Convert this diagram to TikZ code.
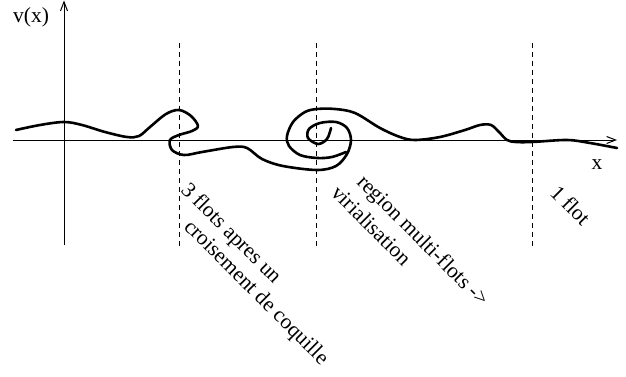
\documentclass[tikz,border=0pt]{standalone}
\usepackage{fontspec}
\setmainfont{Liberation Serif}
\usetikzlibrary{arrows.meta}
\tikzset{
  axisline/.style={line width=1pt, -{Straight Barb[length=9pt,width=7pt,line width=1pt]}},
  guide/.style={line width=0.9pt, dash pattern=on 5pt off 4pt},
  wave/.style={line width=2.6pt, line cap=round, line join=round},
  lbl/.style={font=\fontsize{21.5}{24}\selectfont, inner sep=0pt},
  rlbl/.style={lbl, rotate=-45, anchor=base west}
}
\begin{document}
\begin{tikzpicture}[x=1pt,y=-1pt]
\useasboundingbox (0,0) rectangle (626,377);
% axes
\coordinate (yb) at (64,245);
\coordinate (yt) at (64,0.5);
\coordinate (xl) at (13,140);
\coordinate (xr) at (617,140);
\draw[axisline] (yb) -- (yt);
\draw[axisline] (xl) -- (xr);
% dashed guides
\coordinate (d1t) at (179,43); \coordinate (d1b) at (179,246);
\coordinate (d2t) at (316,43); \coordinate (d2b) at (316,247);
\coordinate (d3t) at (532,43); \coordinate (d3b) at (532,247);
\draw[guide] (d1t) -- (d1b);
\draw[guide] (d2t) -- (d2b);
\draw[guide] (d3t) -- (d3b);
% main curve: left part into spiral center
\draw[wave] plot[smooth, tension=0.55] coordinates {
 (16,130) (40,125) (64,122) (82,125) (105,132) (127,137) (139,136) (150,127)
 (166,114) (179,110) (191,116) (198,126) (192,131) (179,135) (170,140)
 (172,150) (184,155) (202,152) (233,147) (247,148) (262,159) (283,166)
 (317,170) (336,166) (347,154) (351,140) (347,128) (336,122) (320,123)
 (309,129) (308,138) (318,144) (327,139) (331,128)};
% outer ring and right part
\draw[wave] plot[smooth, tension=0.55] coordinates {
 (346,152) (332,157) (317,158) (300,155) (289,146) (287,136) (293,122)
 (305,112) (317,109) (335,109) (355,113) (380,128) (400,137) (415,140)
 (440,137) (465,130) (480,125) (491,125) (499,132) (507,140) (516,142)
 (532,142) (567,140) (590,143) (617,148)};
% labels
\node[lbl, anchor=base] (vx) at (31,23) {v(x)};
\node[lbl, anchor=base] (xx) at (597,169) {x};
\node[rlbl] (t1) at (180,191) {3 flots apres un};
\node[rlbl] (t2) at (183,228) {croisement de coquille};
\node[rlbl] (t3) at (356,183) {region multi-flots ->};
\node[rlbl] (t4) at (330,194) {virialisation};
\node[rlbl] (t5) at (549,194) {1 flot};
\end{tikzpicture}
\end{document}
